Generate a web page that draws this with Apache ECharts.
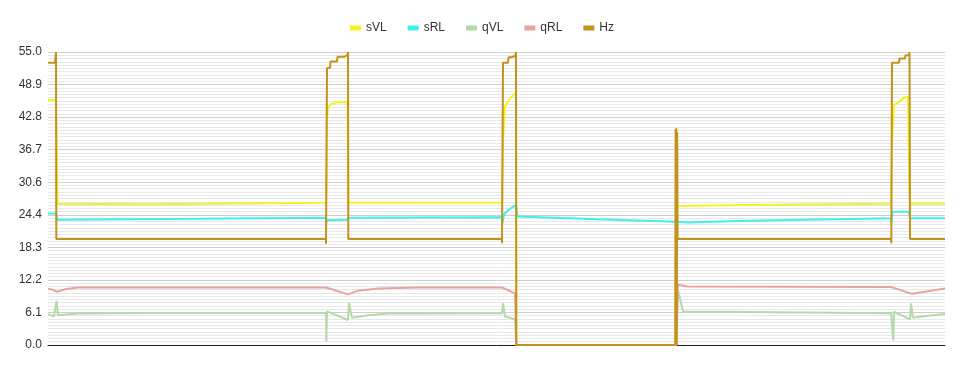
<!DOCTYPE html>
<html><head><meta charset="utf-8">
<script src="https://cdn.jsdelivr.net/npm/echarts@6/dist/echarts.min.js"></script>
<style>html,body{margin:0;padding:0;background:#fff}#c{width:964px;height:371px}</style>
</head><body><div id="c"></div>
<script>
// Series names
const seriesNames = ['sVL', 'sRL', 'qVL', 'qRL', 'Hz'];
// y-axis tick labels
const yTicks = ['0.0','6.1','12.2','18.3','24.4','30.6','36.7','42.8','48.9','55.0'];
// [sample, value] pairs
const sVL = [[0,46],[8,46],[9.5,26.5],[100,26.4],[278,26.7],[278.5,30],[279,42],[280,44.5],[283,45.2],[287,45.5],[299.5,45.6],[300.5,26.7],[454,26.7],[455,38],[457,44.7],[462,46.3],[468,47.4],[468.3,0],[628,0],[629,26.1],[700,26.3],[843,26.5],[844,38],[846,45.0],[850,45.5],[857,46.5],[860,46.6],[861.5,28],[862.5,26.5],[897,26.5]];
const sRL = [[0,24.7],[8,24.7],[9.5,23.5],[150,23.7],[278,23.9],[278.3,22.9],[279,23.4],[299,23.5],[300,23.9],[454,24.0],[454.3,22.8],[456,24.5],[460,25.3],[468,26.3],[469.5,24.1],[550,23.6],[628,23.15],[640,23.0],[700,23.3],[843,23.8],[843.3,22.9],[844.5,25.0],[861,25.0],[862,23.8],[897,23.8]];
const qVL = [[0,5.8],[6,5.4],[8.5,8.3],[10,5.6],[12,5.3],[30,5.9],[100,6.0],[278,6.0],[278.3,0.6],[279,6.3],[300,4.7],[301,7.9],[304,5.1],[320,5.6],[340,5.9],[454,5.95],[455,7.8],[457,5.4],[467,4.8],[468.3,0],[628,0],[630,10.3],[635,6.3],[700,6.2],[843,5.95],[845,5.95],[845.3,0.9],[846,6.25],[862,4.8],[863,7.8],[865,5.1],[880,5.5],[897,5.8]];
const qRL = [[0,10.5],[4,10.4],[9,10.0],[18,10.5],[30,10.8],[278,10.8],[279,10.8],[300,9.5],[310,10.2],[330,10.6],[370,10.8],[454,10.8],[467,9.7],[468.3,0],[628,0],[630,11.3],[640,11.0],[843,10.9],[845,10.9],[864,9.6],[880,10.1],[897,10.6]];
const Hz = [[0,53],[7,53],[8,55],[8.3,19.9],[278,19.9],[278,19.0],[278.5,36],[279,52],[282,52],[282.5,53.2],[289,53.2],[289.5,54.1],[296,54.1],[297,54.4],[299.5,54.4],[300,55],[300.3,19.9],[454,19.9],[454,19.1],[455,53],[460,53],[460.5,54],[463,54],[463.5,54.3],[467.5,54.3],[468,55],[468.3,0],[627.2,0],[627.6,40.5],[628,0],[628.4,40.7],[628.8,0],[629.2,40],[629.6,19.9],[843,19.9],[843.3,19.1],[844,53],[851,53],[851.5,53.8],[857,53.8],[857.5,54.4],[861,54.4],[861.5,55],[862,19.9],[897,19.9]];

const colors = ['#f4f41c', '#3cf0ec', '#b6d9aa', '#e9a3a3', '#c4921a'];
const dataList = [sVL, sRL, qVL, qRL, Hz];
const chart = echarts.init(document.getElementById('c'), null, {renderer: 'canvas'});
chart.setOption({
  animation: false,
  color: colors,
  legend: {
    top: 17, left: 'center', icon: 'rect', itemWidth: 11, itemHeight: 5, itemGap: 21,
    textStyle: {color: '#333', fontSize: 12, fontFamily: 'Arial, Liberation Sans, sans-serif'},
    data: seriesNames
  },
  grid: {left: 48, right: 19, top: 52, bottom: 26},
  xAxis: {
    type: 'value', min: 0, max: 897,
    axisLabel: {show: false}, axisTick: {show: false}, splitLine: {show: false},
    axisLine: {show: true, onZero: false, lineStyle: {color: '#222', width: 1}}
  },
  yAxis: {
    type: 'value', min: 0, max: 55, interval: 55 / 9,
    axisLine: {show: false}, axisTick: {show: false},
    axisLabel: {color: '#333', fontSize: 12, fontFamily: 'Arial, Liberation Sans, sans-serif', margin: 6,
      formatter: function (v) { return yTicks[Math.round(v / (55 / 9))]; }},
    splitLine: {show: true, lineStyle: {color: '#cfcfcf', width: 1}},
    minorTick: {show: false, splitNumber: 10},
    minorSplitLine: {show: true, lineStyle: {color: '#e8e8e8', width: 1}}
  },
  series: seriesNames.map((n, i) => ({
    name: n, type: 'line', data: dataList[i], showSymbol: false, symbol: 'none',
    lineStyle: {width: 2, color: colors[i]}, z: 2 + i
  }))
});
</script></body></html>
